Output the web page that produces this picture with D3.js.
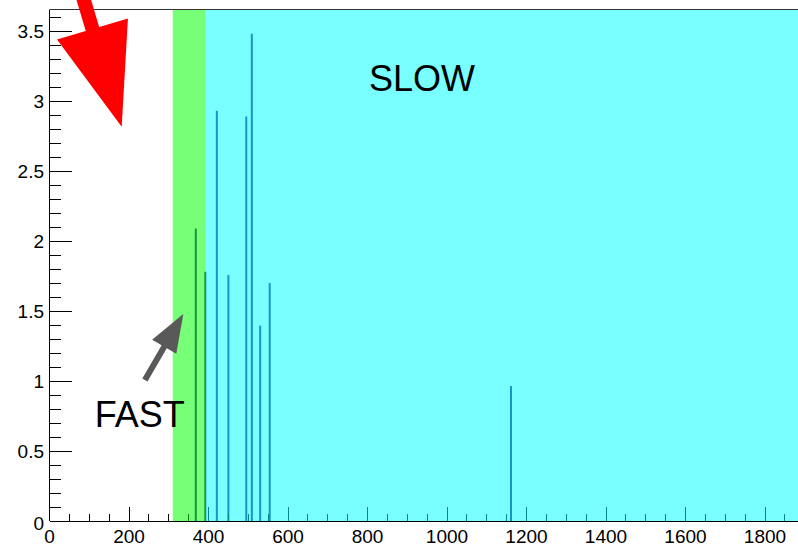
<!DOCTYPE html>
<html><head><meta charset="utf-8">
<script src="https://cdn.jsdelivr.net/npm/d3@7"></script>
<style>body{margin:0;background:#fff}svg{display:block}text{font-family:"Liberation Sans",Arial,Helvetica,sans-serif}</style>
</head><body>
<svg id="c" width="798" height="546"></svg>
<script>
// data
const spikeX = [368, 392, 421, 450, 495, 509, 530, 554, 1161];
const spikeY = [2.09, 1.78, 2.93, 1.757, 2.89, 3.48, 1.395, 1.70, 0.964];
const xTicks = [0, 200, 400, 600, 800, 1000, 1200, 1400, 1600, 1800];
const yTicks = [0, 0.5, 1, 1.5, 2, 2.5, 3, 3.5];
const regionNames = ["FAST", "SLOW"];
const regionStart = [310, 392];
const regionEnd = [392, 1900];
const labelX = [114, 804];
const labelY = [0.67, 3.07];
const arrowFrom = [[57, 4.0], [240, 1.007]];
const arrowTo = [[181.6, 2.816], [336.6, 1.479]];

const svg = d3.select("#c");
const x = d3.scaleLinear().domain([0, 1800]).range([49.5, 765]);
const y = d3.scaleLinear().domain([0, 3.65]).range([521, 10]);
const xMax = x.invert(800);

// spikes
svg.append("g").selectAll("line").data(spikeX).join("line")
  .attr("x1", d => x(d)).attr("x2", d => x(d))
  .attr("y1", y(0)).attr("y2", (d, i) => y(spikeY[i]))
  .attr("stroke", "rgb(52,30,135)").attr("stroke-width", 2);

// axes
const xMinor = d3.range(0, xMax, 50);
const yMinor = d3.range(0, 3.65, 0.1);
const ax = svg.append("g").attr("stroke", "#000").attr("stroke-width", 1).attr("shape-rendering", "crispEdges");
ax.append("line").attr("x1", x(0)).attr("x2", 800).attr("y1", y(0)).attr("y2", y(0));
ax.append("line").attr("x1", x(0)).attr("x2", x(0)).attr("y1", y(0)).attr("y2", y(3.65));
ax.selectAll(".xm").data(xMinor).join("line")
  .attr("x1", d => x(d)).attr("x2", d => x(d))
  .attr("y1", y(0)).attr("y2", d => y(0) - (d % 200 === 0 ? 14.5 : 7));
ax.selectAll(".ym").data(yMinor).join("line")
  .attr("y1", d => y(d)).attr("y2", d => y(d))
  .attr("x1", x(0)).attr("x2", d => x(0) + (Math.abs(d / 0.5 - Math.round(d / 0.5)) < 1e-6 ? 22 : 11));

svg.append("g").selectAll("text").data(xTicks).join("text")
  .attr("x", d => x(d)).attr("y", 543).attr("text-anchor", "middle")
  .attr("font-size", 19).attr("fill", "#000").text(d => d);
svg.append("g").selectAll("text").data(yTicks).join("text")
  .attr("x", 44).attr("y", d => y(d) + 6.5 + (d === 0 ? 2 : 0)).attr("text-anchor", "end")
  .attr("font-size", 19).attr("fill", "#000").text(d => d);

// translucent regions
const regColors = ["rgb(0,255,0)", "rgb(0,255,255)"];
svg.append("g").selectAll("rect").data(regionNames).join("rect")
  .attr("x", (d, i) => x(regionStart[i]))
  .attr("width", (d, i) => x(regionEnd[i]) - x(regionStart[i]))
  .attr("y", y(3.65)).attr("height", y(0) - y(3.65))
  .attr("fill", (d, i) => regColors[i]).attr("fill-opacity", 0.53);

// frame top
svg.append("line").attr("x1", x(0)).attr("x2", 800).attr("y1", y(3.65) - 0.5).attr("y2", y(3.65) - 0.5)
  .attr("stroke", "#333").attr("stroke-width", 1);

// region labels
svg.append("g").selectAll("text").data(regionNames).join("text")
  .attr("x", (d, i) => x(labelX[i])).attr("y", (d, i) => y(labelY[i]))
  .attr("font-size", 36).attr("fill", "#000").text(d => d);

// arrows
const arrowStyle = [
  {color: "#ff0000", shaft: 14, headLen: 102, headHalf: 37},
  {color: "#595959", shaft: 6, headLen: 38, headHalf: 14}
];
const ag = svg.append("g");
arrowFrom.forEach((f, i) => {
  const s = arrowStyle[i];
  const x1 = x(f[0]), y1 = y(f[1]), x2 = x(arrowTo[i][0]), y2 = y(arrowTo[i][1]);
  const dx = x2 - x1, dy = y2 - y1, L = Math.hypot(dx, dy);
  const ux = dx / L, uy = dy / L, px = -uy, py = ux;
  const bx = x2 - ux * s.headLen, by = y2 - uy * s.headLen;
  ag.append("line").attr("x1", x1).attr("y1", y1).attr("x2", bx + ux * 2).attr("y2", by + uy * 2)
    .attr("stroke", s.color).attr("stroke-width", s.shaft);
  ag.append("polygon")
    .attr("points", [[x2, y2], [bx + px * s.headHalf, by + py * s.headHalf], [bx - px * s.headHalf, by - py * s.headHalf]].map(p => p.join(",")).join(" "))
    .attr("fill", s.color);
});
</script>
</body></html>
